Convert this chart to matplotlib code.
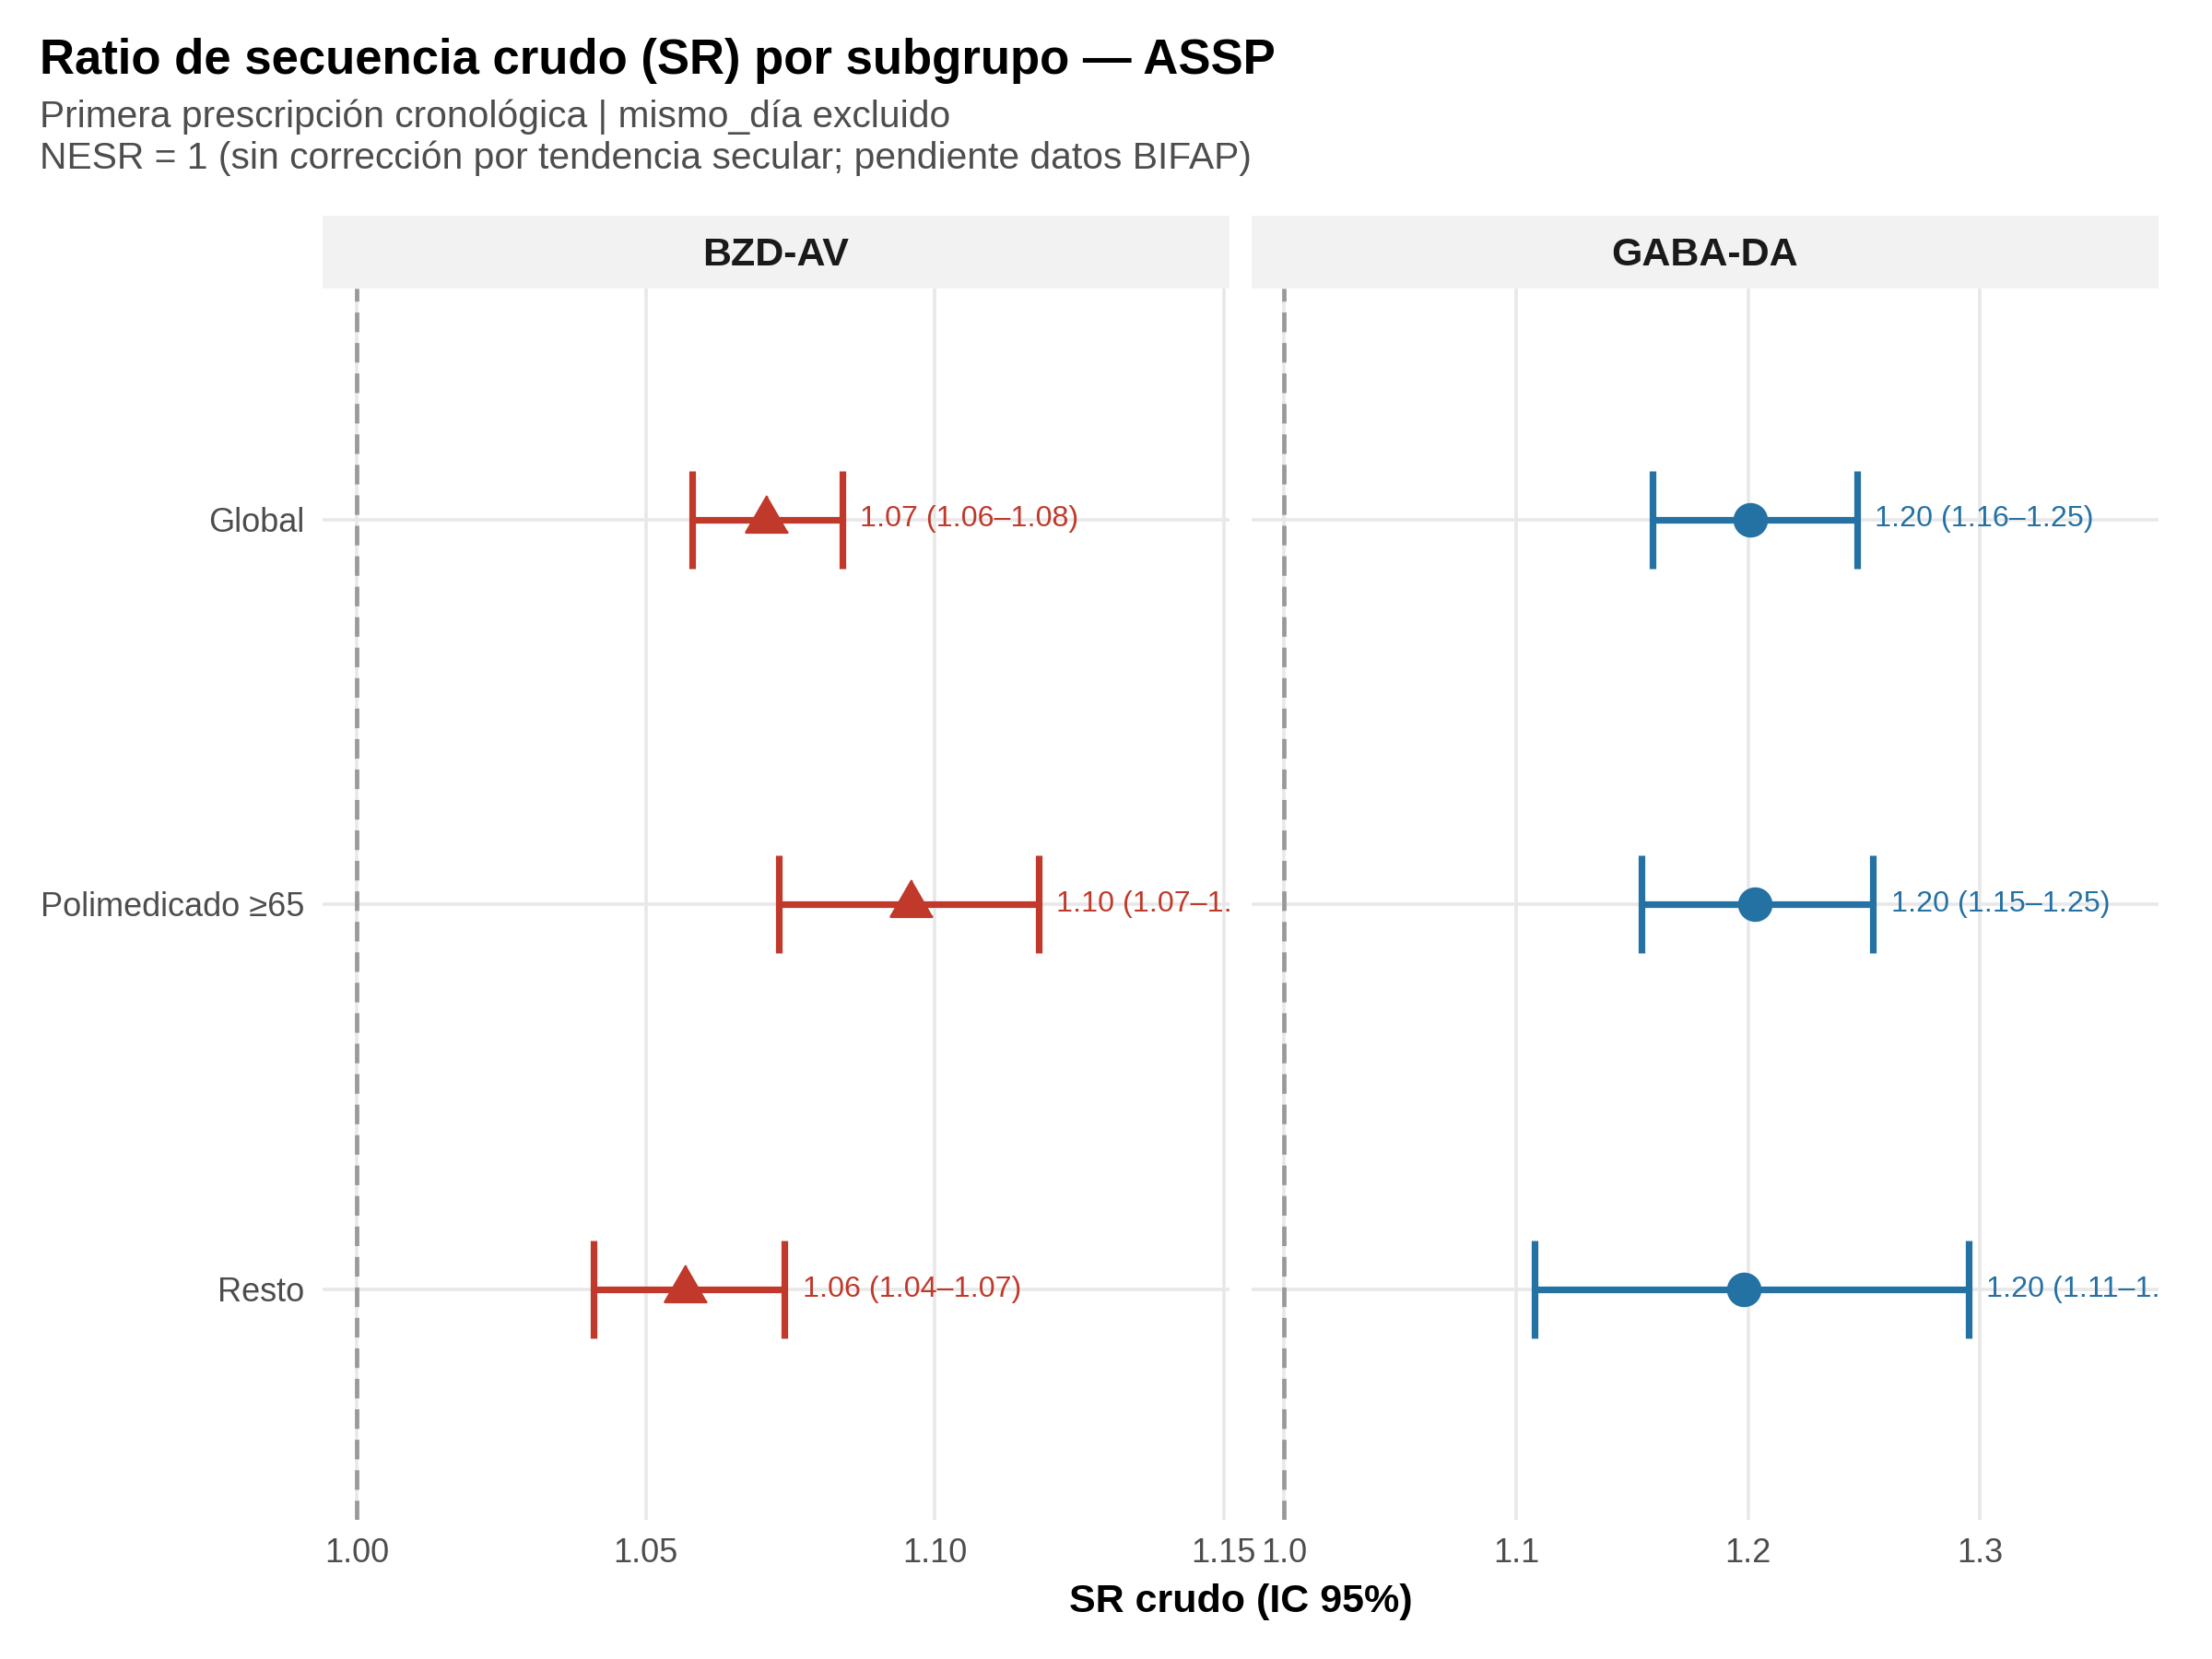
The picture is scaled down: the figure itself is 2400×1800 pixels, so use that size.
import matplotlib
matplotlib.use("Agg")
import matplotlib.pyplot as plt

plt.rcParams['font.family'] = ['Liberation Sans', 'DejaVu Sans']

# datos
subgrupos = ["Global", "Polimedicado ≥65", "Resto"]
paneles = ["BZD-AV", "GABA-DA"]
sr_bzd = [1.071, 1.096, 1.057]
lo_bzd = [1.058, 1.073, 1.041]
hi_bzd = [1.084, 1.118, 1.074]
lab_bzd = ["1.07 (1.06–1.08)", "1.10 (1.07–1.12)", "1.06 (1.04–1.07)"]
sr_gaba = [1.201, 1.203, 1.198]
lo_gaba = [1.159, 1.154, 1.108]
hi_gaba = [1.247, 1.254, 1.295]
lab_gaba = ["1.20 (1.16–1.25)", "1.20 (1.15–1.25)", "1.20 (1.11–1.30)"]

ticks_bzd = [1.00, 1.05, 1.10, 1.15]
ticks_gaba = [1.0, 1.1, 1.2, 1.3]

rojo = "#C0392B"
azul = "#2471A3"
tri = [(0, 0.577), (-0.5, -0.289), (0.5, -0.289)]

W, H = 2400, 1800
fig = plt.figure(figsize=(12, 9), dpi=200)

def px(x0, y0, x1, y1):
    return [x0 / W, 1 - y1 / H, (x1 - x0) / W, (y1 - y0) / H]

specs = [
    (px(350, 313, 1334, 1649), px(350, 234, 1334, 313), sr_bzd, lo_bzd, hi_bzd, lab_bzd,
     rojo, tri, 19, ticks_bzd, ["1.00", "1.05", "1.10", "1.15"], (0.9941, 1.1510)),
    (px(1358, 313, 2342, 1649), px(1358, 234, 2342, 313), sr_gaba, lo_gaba, hi_gaba, lab_gaba,
     azul, "o", 12.5, ticks_gaba, ["1.0", "1.1", "1.2", "1.3"], (0.9860, 1.3770)),
]

ypos = [1, 2, 3]
for i, (rect, srect, sr, lo, hi, labs, col, mk, ms, tks, tkl, xl) in enumerate(specs):
    ax = fig.add_axes(rect)
    ax.set_xlim(*xl)
    ax.set_ylim(3.6, 0.4)
    for s in ax.spines.values():
        s.set_visible(False)
    ax.set_xticks(tks)
    ax.set_xticklabels(tkl)
    ax.set_yticks(ypos)
    if i == 0:
        ax.set_yticklabels(subgrupos)
    else:
        ax.set_yticklabels([])
    ax.tick_params(length=0, labelsize=13, colors="#4D4D4D", pad=7)
    ax.grid(True, color="#E8E8E8", linewidth=1.3)
    ax.set_axisbelow(True)
    ax.axvline(1.0, color="#999999", linewidth=1.7, linestyle=(0, (4.5, 2.5)), zorder=1)
    xerr = [[s - l for s, l in zip(sr, lo)], [h - s for s, h in zip(sr, hi)]]
    ax.errorbar(sr, ypos, xerr=xerr, fmt="none", ecolor=col, elinewidth=2.6,
                capsize=19, capthick=2.6, zorder=2)
    ax.plot(sr, ypos, linestyle="none", marker=mk, markersize=ms, color=col, zorder=3)
    for h, y, t in zip(hi, ypos, labs):
        ax.annotate(t, xy=(h, y), xytext=(7, 0), textcoords="offset points",
                    ha="left", va="center", color=col, fontsize=11.6, clip_on=True)

    sax = fig.add_axes(srect)
    sax.set_facecolor("#F2F2F2")
    sax.set_xticks([])
    sax.set_yticks([])
    for s in sax.spines.values():
        s.set_visible(False)
    sax.text(0.5, 0.45, paneles[i], ha="center", va="center", fontsize=15.5,
             fontweight="bold", color="#1A1A1A", transform=sax.transAxes)

fig.text(43 / W, 1 - 66 / H, "Ratio de secuencia crudo (SR) por subgrupo — ASSP",
         fontsize=19, fontweight="bold", ha="left", va="center", color="black")
fig.text(43 / W, 1 - 127 / H, "Primera prescripción cronológica | mismo_día excluido",
         fontsize=14.7, ha="left", va="center", color="#4D4D4D")
fig.text(43 / W, 1 - 172 / H,
         "NESR = 1 (sin corrección por tendencia secular; pendiente datos BIFAP)",
         fontsize=14.7, ha="left", va="center", color="#4D4D4D")
fig.text(1346 / W, 1 - 1738 / H, "SR crudo (IC 95%)", fontsize=15.5, fontweight="bold",
         ha="center", va="center", color="black")

fig.savefig("out.png", dpi=200, facecolor="white")
